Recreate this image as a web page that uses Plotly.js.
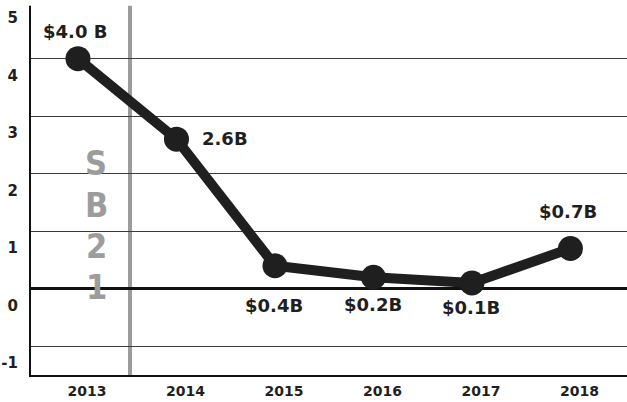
<!DOCTYPE html>
<html><head><meta charset="utf-8">
<script src="https://cdn.plot.ly/plotly-3.0.1.min.js"></script>
<style>html,body{margin:0;padding:0;background:#fff}#chart{width:627px;height:402px}</style>
</head><body><div id="chart"></div>
<script>
// ---- data ----
const years = ['2013', '2014', '2015', '2016', '2017', '2018'];
const revenue = [4.0, 2.6, 0.4, 0.2, 0.1, 0.7];
const valueLabels = ['$4.0 B', '2.6B', '$0.4B', '$0.2B', '$0.1B', '$0.7B'];
const yTickVals = [-1, 0, 1, 2, 3, 4, 5];
const yTickText = ['-1', '0', '1', '2', '3', '4', '5'];
const lawLetters = ['S', 'B', '2', '1'];

// ---- styling for labels (offsets in px) ----
const labelStyle = [
  {xshift: -3, yshift: 27, xanchor: 'center'},
  {xshift: 24, yshift: 1, xanchor: 'left'},
  {xshift: -1, yshift: -40, xanchor: 'center'},
  {xshift: 0, yshift: -27, xanchor: 'center'},
  {xshift: -1, yshift: -25, xanchor: 'center'},
  {xshift: -2, yshift: 37, xanchor: 'center'}
];
const letterY = [2.19, 1.46, 0.745, 0.03];

const ink = '#1f1f1f';
const annotations = years.map((yr, i) => ({
  x: years.indexOf(yr), y: revenue[i], xref: 'x', yref: 'y',
  text: '<b>' + valueLabels[i].replace('$', '&#36;') + '</b>', showarrow: false,
  xshift: labelStyle[i].xshift, yshift: labelStyle[i].yshift,
  xanchor: labelStyle[i].xanchor, yanchor: 'middle',
  font: {family: 'DejaVu Sans', size: 18, color: ink}
}));
lawLetters.forEach((ch, i) => {
  annotations.push({
    x: 0.185, y: letterY[i], xref: 'x', yref: 'y',
    text: '<b>' + ch + '</b>', showarrow: false,
    xanchor: 'center', yanchor: 'middle', borderpad: 0,
    font: {family: 'DejaVu Sans Condensed', size: 34, color: '#9c9c9c'}
  });
});

const trace = {
  x: years, y: revenue, type: 'scatter', mode: 'lines+markers',
  line: {color: ink, width: 10},
  marker: {color: ink, size: 25},
  hoverinfo: 'skip', cliponaxis: false
};

const layout = {
  width: 627, height: 402,
  margin: {l: 31, r: 0, t: 0, b: 27},
  paper_bgcolor: '#ffffff', plot_bgcolor: '#ffffff',
  showlegend: false,
  font: {family: 'DejaVu Sans', color: ink},
  xaxis: {
    type: 'category', range: [-0.477, 5.574],
    showgrid: false, zeroline: false,
    showline: true, linecolor: '#111', linewidth: 2,
    ticks: '', ticklabelshift: 9, ticklabelstandoff: 2,
    tickfont: {family: 'DejaVu Sans', size: 14, color: ink, weight: 'bold'}
  },
  yaxis: {
    range: [-1.5, 5.02], tickvals: yTickVals, ticktext: yTickText,
    showgrid: true, gridcolor: '#3a3a3a', gridwidth: 1.3,
    zeroline: true, zerolinecolor: '#111', zerolinewidth: 3,
    showline: true, linecolor: '#111', linewidth: 2,
    ticks: '', ticklabelshift: 17, ticklabelstandoff: 8,
    tickfont: {family: 'DejaVu Sans', size: 15, color: ink, weight: 'bold'}
  },
  shapes: [
    {
      type: 'line', xref: 'x', yref: 'paper', x0: 0.528, x1: 0.528, y0: 0, y1: 1,
      line: {color: '#9c9c9c', width: 4}, layer: 'below'
    },
    {
      type: 'rect', xref: 'paper', yref: 'paper', x0: -0.01, x1: 1.01, y0: 0.985, y1: 1.02,
      fillcolor: '#ffffff', line: {width: 0}, layer: 'above'
    }
  ],
  annotations: annotations
};

Plotly.newPlot('chart', [trace], layout, {displayModeBar: false, staticPlot: true});
</script>
</body></html>
